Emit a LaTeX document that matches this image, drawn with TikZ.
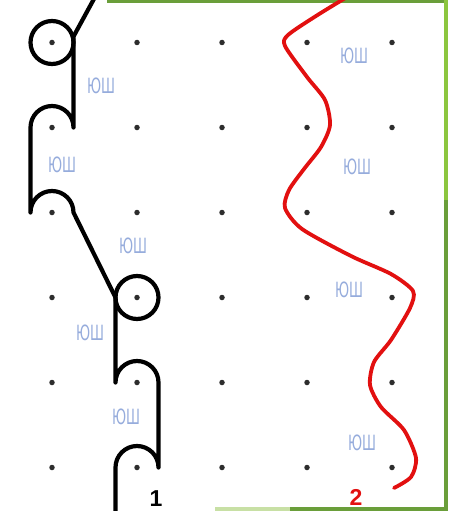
\documentclass[tikz,border=0pt]{standalone}
\usepackage{fontspec}
\usetikzlibrary{calc}
\setmainfont{Liberation Sans}
\newfontfamily\lblfont{DejaVu Sans}
\definecolor{dotgray}{RGB}{45,45,45}
\definecolor{lblblue}{RGB}{150,172,220}
\definecolor{darkgreen}{RGB}{106,158,58}
\definecolor{limegreen}{RGB}{140,198,63}
\definecolor{palegreen}{RGB}{200,224,165}
\definecolor{curvered}{RGB}{226,16,16}
\tikzset{
  griddot/.style={circle,fill=dotgray,inner sep=0pt,minimum size=5.5pt},
  blackpath/.style={draw=black,line width=4.2pt,line join=round},
  redpath/.style={draw=curvered,line width=3.8pt,line cap=round,line join=round},
  smalllbl/.style={text=lblblue,font=\lblfont\fontsize{21}{21}\selectfont,xscale=0.62,inner sep=0pt},
  numlbl/.style={font=\bfseries\fontsize{23}{23}\selectfont,inner sep=0pt}
}
\begin{document}
\begin{tikzpicture}[x=1pt,y=-1pt]
\useasboundingbox (0,0) rectangle (448,511);
% frame bars
\fill[darkgreen] (107,0) rectangle (444,3.5);
\fill[limegreen] (444,0) rectangle (448,200);
\fill[darkgreen] (444,200) rectangle (448,511);
\fill[palegreen] (215,507) rectangle (290,511);
\fill[darkgreen] (290,507) rectangle (444,511);
% grid dots
\foreach \i in {0,...,4}{
  \foreach \j in {0,...,5}{
    \node[griddot] (d\i\j) at ({52+85*\i},{42.5+85*\j}) {};
  }
}
% black path 1
\draw[blackpath] (d00) circle (21.5);
\draw[blackpath] (d13) circle (21.5);
\coordinate (t1) at (95,-3);
\coordinate (b1) at (115.5,514);
\draw[blackpath] (t1) -- ($(d00)+(21.5,-6)$) -- ($(d01)+(21.5,0)$)
  arc[start angle=0,end angle=-180,radius=21.5]
  -- ($(d02)+(-21.5,0)$)
  arc[start angle=180,end angle=360,radius=21.5]
  -- ($(d13)+(-21.5,0)$)
  -- ($(d14)+(-21.5,0)$)
  arc[start angle=180,end angle=360,radius=21.5]
  -- ($(d15)+(21.5,0)$)
  arc[start angle=0,end angle=-180,radius=21.5]
  -- (b1);
% red path 2
\draw[redpath] plot[smooth,tension=0.45] coordinates {
  (347,-3) (316,16) (288,35) (285,46) (307,77) (325,100) (330,125) (321,147)
  (304,169) (289,190) (285,208) (302,229) (351,256) (391,274) (413,291)
  (410,308) (391,340) (374,362) (370,385) (381,407) (404,430) (416,458)
  (411,477) (394,488)};
% labels
\node[smalllbl] (l1) at (101,86) {ЮШ};
\node[smalllbl] (l2) at (62,165) {ЮШ};
\node[smalllbl] (l3) at (133,246) {ЮШ};
\node[smalllbl] (l4) at (90,333) {ЮШ};
\node[smalllbl] (l5) at (126,417) {ЮШ};
\node[smalllbl] (l6) at (354,56) {ЮШ};
\node[smalllbl] (l7) at (357,167) {ЮШ};
\node[smalllbl] (l8) at (349,290) {ЮШ};
\node[smalllbl] (l9) at (362,443) {ЮШ};
\node[numlbl] (n1) at (156,499) {1};
\node[numlbl,text=curvered] (n2) at (356,497) {2};
\end{tikzpicture}
\end{document}
